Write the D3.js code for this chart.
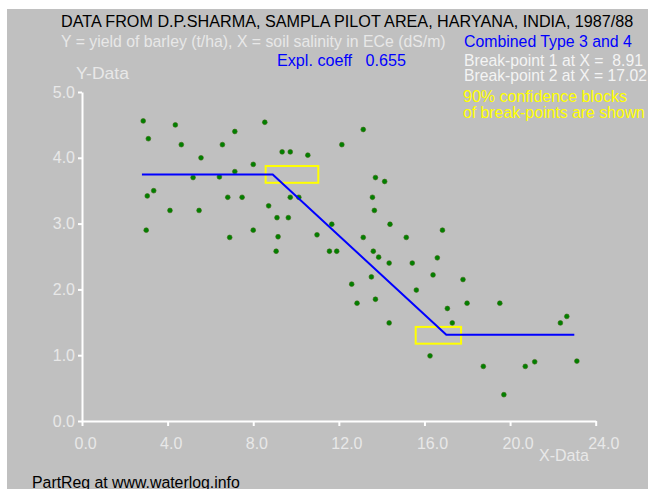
<!DOCTYPE html>
<html>
<head>
<meta charset="utf-8">
<script src="https://cdn.jsdelivr.net/npm/d3@7"></script>
<style>
  body { margin: 0; background: #fff; }
  text { font-family: "Liberation Sans", Arial, sans-serif; white-space: pre; }
</style>
</head>
<body>
<script>
// salinity (ECe, dS/m) and barley yield (t/ha)
var salinity = [2.86, 4.36, 7.14, 3.10, 4.64, 6.56, 5.56, 8.00, 7.14, 5.19,
                6.42, 3.35, 3.05, 6.81, 7.48, 4.11, 5.47, 3.00, 6.90, 8.00,
                8.54, 13.14, 12.14, 9.35, 9.73, 10.55, 13.71, 14.14, 9.73, 10.13,
                13.57, 8.72, 13.66, 9.11, 9.64, 14.39, 11.67, 16.84, 9.16, 10.98,
                13.14, 15.15, 9.07, 11.56, 11.90, 13.61, 13.86, 16.60, 14.35, 15.43,
                16.40, 13.52, 12.60, 15.62, 12.85, 13.71, 17.07, 17.80, 17.99, 19.52,
                17.30, 22.65, 22.35, 16.26, 18.75, 20.71, 21.15, 23.12, 19.71, 14.35];
var yieldT   = [4.56, 4.50, 4.40, 4.29, 4.20, 4.20, 4.00, 3.90, 3.79, 3.70,
                3.71, 3.50, 3.42, 3.40, 3.40, 3.20, 3.20, 2.90, 2.79, 2.90,
                4.54, 4.43, 4.20, 4.09, 4.09, 4.04, 3.70, 3.64, 3.40, 3.40,
                3.40, 3.27, 3.20, 3.09, 3.09, 2.99, 2.99, 2.90, 2.80, 2.83,
                2.79, 2.79, 2.58, 2.58, 2.58, 2.58, 2.49, 2.48, 2.40, 2.40,
                2.22, 2.19, 2.08, 1.99, 1.79, 1.85, 1.71, 2.15, 1.79, 1.79,
                1.49, 1.59, 1.49, 0.99, 0.83, 0.83, 0.90, 0.91, 0.40, 1.49];

// fitted segmented line (start, break 1, break 2, end)
var lineX = [2.8, 8.91, 17.02, 23.0];
var lineY = [3.746, 3.746, 1.31, 1.31];

// 90% confidence blocks of the break-points [x0, x1, y0, y1]
var blocks = [[8.58, 11.04, 3.62, 3.875], [15.59, 17.71, 1.175, 1.43]];

var xTicks = [0, 4, 8, 12, 16, 20, 24];
var yTicks = [0, 1, 2, 3, 4, 5];

var width = 648, height = 489;

var svg = d3.select("body").append("svg")
    .attr("width", width)
    .attr("height", height);

svg.append("rect")
    .attr("x", 7).attr("y", 9)
    .attr("width", width - 7).attr("height", height - 9)
    .attr("fill", "#c0c0c0");

var x = d3.scaleLinear().domain([0, 24]).range([82, 595.7]);
var y = d3.scaleLinear().domain([0, 5]).range([421, 92]);

var tickCol = "#e8e8e8";

var xAxis = svg.append("g")
    .attr("transform", "translate(0," + y(0) + ")")
    .call(d3.axisBottom(x).tickValues(xTicks).tickSize(5).tickSizeOuter(0)
          .tickFormat(d3.format(".1f")));
xAxis.select(".domain").attr("stroke", "#fff").attr("stroke-width", 2);
xAxis.selectAll(".tick line").attr("stroke", "#fff").attr("stroke-width", 2);
xAxis.selectAll(".tick text")
    .attr("fill", tickCol).attr("font-size", 16)
    .attr("text-anchor", "start").attr("x", -8).attr("y", 28).attr("dy", null);

var yAxis = svg.append("g")
    .attr("transform", "translate(" + x(0) + ",0)")
    .call(d3.axisLeft(y).tickValues(yTicks).tickSize(4).tickSizeOuter(0)
          .tickFormat(d3.format(".1f")));
yAxis.select(".domain").attr("stroke", "#fff").attr("stroke-width", 2);
yAxis.selectAll(".tick line").attr("stroke", "#fff").attr("stroke-width", 2);
yAxis.selectAll(".tick text")
    .attr("fill", tickCol).attr("font-size", 16).attr("x", -7);

svg.selectAll("rect.block")
    .data(blocks)
    .enter().append("rect")
    .attr("class", "block")
    .attr("x", function (d) { return x(d[0]); })
    .attr("y", function (d) { return y(d[3]); })
    .attr("width", function (d) { return x(d[1]) - x(d[0]); })
    .attr("height", function (d) { return y(d[2]) - y(d[3]); })
    .attr("fill", "none")
    .attr("stroke", "#ffff00")
    .attr("stroke-width", 2);

var pts = salinity.map(function (s, i) { return [s, yieldT[i]]; });

svg.selectAll("circle")
    .data(pts)
    .enter().append("circle")
    .attr("cx", function (d) { return x(d[0]); })
    .attr("cy", function (d) { return y(d[1]); })
    .attr("r", 2.4)
    .attr("fill", "#008000")
    .attr("stroke", "#3a6a10")
    .attr("stroke-width", 0.6);

svg.append("path")
    .datum(lineX.map(function (v, i) { return [v, lineY[i]]; }))
    .attr("d", d3.line().x(function (d) { return x(d[0]); }).y(function (d) { return y(d[1]); }))
    .attr("fill", "none")
    .attr("stroke", "#0000ff")
    .attr("stroke-width", 2);

// text in the original is a tall narrow face, so squeeze it to the measured width
function label(tx, ty, str, col, len) {
  var t = svg.append("text")
     .attr("fill", col).attr("font-size", 17)
     .text(str);
  var w = t.node().getComputedTextLength();
  t.attr("transform", "translate(" + tx + "," + ty + ") scale(" + (len / w) + ",1)");
}

label(61, 27, "DATA FROM D.P.SHARMA, SAMPLA PILOT AREA, HARYANA, INDIA, 1987/88", "#000", 573);
label(61, 47, "Y = yield of barley (t/ha), X = soil salinity in ECe (dS/m)", tickCol, 385);
label(464, 47, "Combined Type 3 and 4", "#0000ff", 168);
label(277, 66, "Expl. coeff   0.655", "#0000ff", 129);
label(76, 79, "Y-Data", tickCol, 53);
label(464, 66, "Break-point 1 at X =  8.91", "#f4f4f4", 179);
label(464, 81, "Break-point 2 at X = 17.02", "#f4f4f4", 183);
label(463, 102, "90% confidence blocks", "#ffff00", 164);
label(463, 118, "of break-points are shown", "#ffff00", 182);
label(539, 461, "X-Data", tickCol, 50);
label(32, 488, "PartReg at www.waterlog.info", "#000", 208);
</script>
</body>
</html>
